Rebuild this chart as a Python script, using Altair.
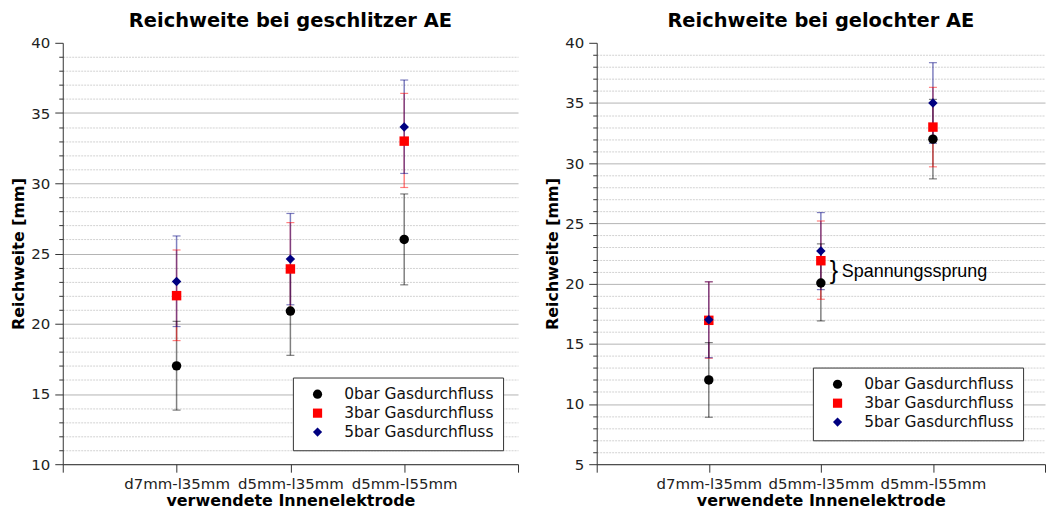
import altair as alt
import pandas as pd

categories = ["d7mm-l35mm", "d5mm-l35mm", "d5mm-l55mm"]
series = ["0bar Gasdurchfluss", "3bar Gasdurchfluss", "5bar Gasdurchfluss"]

# left panel: geschlitzte AE
l_mean_0 = [17.0, 20.9, 26.0]
l_low_0 = [13.85, 17.75, 22.77]
l_high_0 = [20.17, 24.05, 29.24]
l_mean_3 = [22.0, 23.9, 33.0]
l_low_3 = [18.8, 20.8, 29.7]
l_high_3 = [25.25, 27.2, 36.4]
l_mean_5 = [23.0, 24.6, 34.0]
l_low_5 = [19.8, 21.35, 30.7]
l_high_5 = [26.25, 27.85, 37.35]

# right panel: gelochte AE
r_mean_0 = [12.0, 20.05, 32.0]
r_low_0 = [8.9, 16.9, 28.7]
r_high_0 = [15.1, 23.3, 35.3]
r_mean_3 = [16.95, 21.9, 33.0]
r_low_3 = [13.8, 18.7, 29.7]
r_high_3 = [20.15, 25.2, 36.3]
r_mean_5 = [17.0, 22.7, 35.0]
r_low_5 = [13.85, 19.5, 31.65]
r_high_5 = [20.15, 25.9, 38.35]

colors = ["#000000", "#ff0000", "#000080"]
shapes = ["circle", "square", "diamond"]

annotation_text = ["}", "Spannungssprung"]
annotation_x = [2, 2]
annotation_y = [21.0, 21.0]


def build_df(means, lows, highs):
    rows = []
    for s, m, lo, hi in zip(series, means, lows, highs):
        for i, c in enumerate(categories):
            rows.append({"elektrode": c, "idx": i + 1, "series": s, "series_e": s,
                         "mean": m[i], "low": lo[i], "high": hi[i]})
    return pd.DataFrame(rows)


left_df = build_df([l_mean_0, l_mean_3, l_mean_5],
                   [l_low_0, l_low_3, l_low_5],
                   [l_high_0, l_high_3, l_high_5])
right_df = build_df([r_mean_0, r_mean_3, r_mean_5],
                    [r_low_0, r_low_3, r_low_5],
                    [r_high_0, r_high_3, r_high_5])

label_array = "[''," + ",".join("'%s'" % c for c in categories) + ",'']"

FONT = "DejaVu Sans"


def panel(df, title, ymin, width, legend_x, legend_y, annotate=False):
    xenc = alt.X("idx:Q",
                 scale=alt.Scale(domain=[0, 4], nice=False, zero=False),
                 axis=alt.Axis(values=[0, 1, 2, 3, 4], tickCount=10,
                               labelExpr=label_array + "[datum.value]",
                               grid=False, tickSize=8, labelPadding=4,
                               labelFontSize=15,
                               title="verwendete Innenelektrode",
                               titlePadding=1))
    yscale = alt.Scale(domain=[ymin, 40], nice=False, zero=False)
    yaxis = alt.Axis(values=list(range(ymin, 41)), tickCount=100,
                     labelExpr="datum.value % 5 === 0 ? datum.value : ''",
                     tickSize={"condition": {"test": "datum.value % 5 === 0", "value": 8}, "value": 4},
                     grid=True,
                     gridDash={"condition": {"test": "datum.value % 5 === 0", "value": []}, "value": [2, 1]},
                     gridColor={"condition": {"test": "datum.value % 5 === 0", "value": "#b4b4b4"}, "value": "#d2d2d2"},
                     gridOpacity={"condition": {"test": "datum.value === 40", "value": 0}, "value": 1},
                     labelPadding=5, labelOverlap=False,
                     title="Reichweite [mm]", titlePadding=4)
    base = alt.Chart(df)
    # error bars use their own (data-driven) colour scale so that no legend is merged with them
    escale = alt.Scale(range=colors)
    legend = alt.Legend(title="", orient="none", legendX=legend_x, legendY=legend_y,
                        strokeColor="#333333", fillColor="white",
                        padding=9, rowPadding=2,
                        symbolOffset=8, labelOffset=19,
                        labelFont=FONT, labelFontSize=15.5,
                        labelColor="#111111", symbolSize=85)
    rules = base.mark_rule(strokeWidth=1.5, opacity=0.5).encode(
        x=xenc,
        y=alt.Y("low:Q", scale=yscale, axis=yaxis),
        y2="high:Q",
        stroke=alt.Stroke("series_e:N", scale=escale, legend=None),
    )
    cap_lo = base.mark_tick(orient="horizontal", size=8, thickness=1.2, opacity=0.5).encode(
        x="idx:Q", y="low:Q",
        fill=alt.Fill("series_e:N", scale=escale, legend=None),
    )
    cap_hi = base.mark_tick(orient="horizontal", size=8, thickness=1.2, opacity=0.5).encode(
        x="idx:Q", y="high:Q",
        fill=alt.Fill("series_e:N", scale=escale, legend=None),
    )
    pts = base.mark_point(filled=True, size=90, opacity=1).encode(
        x="idx:Q", y="mean:Q",
        color=alt.Color("series:N", scale=alt.Scale(domain=series, range=colors), legend=legend),
        shape=alt.Shape("series:N", scale=alt.Scale(domain=series, range=shapes), legend=legend),
    )
    layers = [rules, cap_lo, cap_hi, pts]
    if annotate:
        ann_df = pd.DataFrame({"t": annotation_text, "x": annotation_x, "y": annotation_y})
        brace = alt.Chart(ann_df).transform_filter("datum.t === '}'").mark_text(
            font="Liberation Sans", fontSize=25, align="center", baseline="middle",
            dx=13, dy=-1, color="black").encode(x="x:Q", y="y:Q", text="t:N")
        txt = alt.Chart(ann_df).transform_filter("datum.t !== '}'").mark_text(
            font="Liberation Sans", fontSize=18, align="left", baseline="middle",
            dx=21, color="black").encode(x="x:Q", y="y:Q", text="t:N")
        layers += [brace, txt]
    return alt.layer(*layers).properties(
        width=width, height=423,
        title=alt.TitleParams(title, font=FONT, fontSize=19.5, fontWeight="bold",
                              anchor="middle", frame="group", offset=4, color="black"),
    )


left = panel(left_df, "Reichweite bei geschlitzer AE", 10, 457, 231, 336)
right = panel(right_df, "Reichweite bei gelochter AE", 5, 450, 217, 326, annotate=True)

chart = alt.hconcat(left, right, spacing=25).resolve_scale(
    color="independent", shape="independent", stroke="independent", fill="independent"
).configure_view(stroke=None).configure_axis(
    labelFont=FONT, labelFontSize=15, labelColor="#222222",
    titleFont=FONT, titleFontSize=16, titleFontWeight="bold", titleColor="black",
    domainColor="#333333", tickColor="#333333",
).properties(padding={"left": 10, "top": 10, "right": 0, "bottom": 0})

chart.save("out.html", embed_options={"renderer": "svg", "actions": False})
